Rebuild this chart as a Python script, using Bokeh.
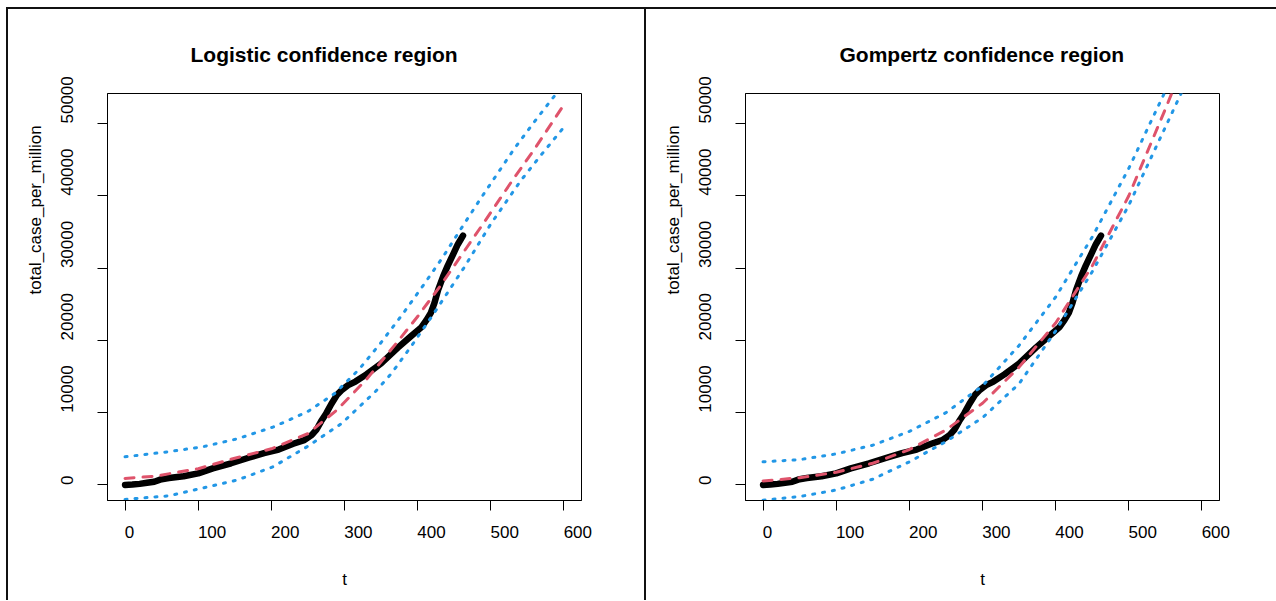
import math
from bokeh.plotting import figure
from bokeh.models import Range1d, FixedTicker, LinearAxis, Title, Div, Spacer
from bokeh.layouts import row, column
from bokeh.embed import file_html
from bokeh.resources import INLINE

# ---------------- data ----------------
x_ticks = [0, 100, 200, 300, 400, 500, 600]
x_tick_labels = ["0", "100", "200", "300", "400", "500", "600"]
y_ticks = [0, 10000, 20000, 30000, 40000, 50000]
y_tick_labels = ["0", "10000", "20000", "30000", "40000", "50000"]

t_obs = [0, 10, 20, 30, 40, 50, 60, 80, 100, 120, 145, 170, 190, 210, 230, 245, 255,
         262, 268, 275, 282, 290, 297, 305, 315, 330, 350, 373, 390, 405, 412, 418,
         423, 428, 435, 441, 448, 455, 462]
cases = [0, 50, 150, 300, 450, 800, 950, 1200, 1600, 2300, 3000, 3800, 4400, 4900, 5700,
         6200, 6900, 7700, 8800, 9900, 11200, 12500, 13200, 13800, 14300, 15300, 16800,
         19000, 20500, 21800, 22800, 23800, 25200, 27000, 28900, 30300, 31800, 33300, 34500]

# Logistic model
log_fit_t = [0, 40, 100, 150, 200, 250, 290, 330, 370, 400, 430, 460, 490, 530, 560, 600]
log_fit_v = [900, 1200, 2250, 3700, 5000, 7100, 10400, 14600, 19500, 23300, 27400, 31800,
             36200, 42200, 46500, 52600]
log_up_t = [0, 60, 107, 154, 202, 249, 286, 320, 350, 380, 409, 435, 459, 486, 532, 560, 600]
log_up_v = [3900, 4600, 5300, 6400, 8000, 10100, 12600, 16000, 19700, 23700, 27800, 31600,
            35400, 39600, 46500, 50300, 55500]
log_lo_t = [0, 60, 107, 154, 202, 249, 296, 343, 364, 392, 422, 463, 500, 541, 570, 600]
log_lo_v = [-2000, -1500, -400, 700, 2500, 5300, 8500, 13000, 15400, 19300, 23700, 30000,
            36100, 42100, 45800, 49500]

# Gompertz model
gom_fit_t = [0, 50, 100, 150, 200, 250, 300, 350, 400, 450, 500, 550, 570]
gom_fit_v = [550, 1000, 1750, 3000, 4900, 7600, 11300, 16300, 22400, 30300, 40000, 52000, 57000]
gom_up_t = [0, 50, 100, 150, 200, 250, 300, 350, 400, 450, 500, 550]
gom_up_v = [3200, 3500, 4300, 5500, 7400, 10000, 13700, 19300, 26000, 34300, 43800, 54500]
gom_lo_t = [0, 50, 100, 150, 200, 250, 300, 350, 400, 450, 500, 550, 580]
gom_lo_v = [-2100, -1600, -700, 800, 3200, 6000, 9300, 14000, 21300, 29500, 38700, 49500, 56000]

# ---------------- style ----------------
FONT = "Liberation Sans"
RED = "#DF536B"
BLUE = "#2297E6"
X_START, X_END = -24, 624
Y_START, Y_END = -2150, 54150
FIG_H = 591
FRAME_W = 474
FRAME_H = 407
TOP = 84
LEFT = 99
LABEL_PX = 17


def label_shift(text, px_per_unit):
    # tick labels in the reference start at the tick instead of being centred on it
    width_px = 0.556 * LABEL_PX * len(text)
    return int(round(width_px / 2 / px_per_unit))


def make_panel(title, title_offset, width,
               fit_t, fit_v, up_t, up_v, lo_t, lo_v):
    p = figure(width=width, height=FIG_H,
               x_range=Range1d(X_START, X_END), y_range=Range1d(Y_START, Y_END),
               output_backend="svg", toolbar_location=None,
               min_border_left=LEFT, min_border_right=width - LEFT - FRAME_W,
               min_border_top=TOP, min_border_bottom=FIG_H - TOP - FRAME_H)
    p.xgrid.visible = False
    p.ygrid.visible = False
    p.outline_line_color = "black"
    p.outline_line_width = 1
    p.background_fill_color = "white"
    p.border_fill_color = "white"

    # tick-mark axes (labels not drawn)
    for ax, ticks in ((p.xaxis[0], x_ticks), (p.yaxis[0], y_ticks)):
        ax.ticker = FixedTicker(ticks=ticks)
        ax.major_tick_in = 0
        ax.major_tick_out = 10
        ax.minor_tick_line_color = None
        ax.major_label_text_color = None
        ax.major_label_text_font_size = "1px"
        ax.major_label_standoff = 0
        ax.axis_line_color = "black"
        ax.major_tick_line_color = "black"

    px_x = FRAME_W / (X_END - X_START)
    px_y = FRAME_H / (Y_END - Y_START)
    xs = [t + label_shift(s, px_x) for t, s in zip(x_ticks, x_tick_labels)]
    ys = [v + label_shift(s, px_y) for v, s in zip(y_ticks, y_tick_labels)]

    xlab = LinearAxis(ticker=FixedTicker(ticks=xs),
                      major_label_overrides={k: s for k, s in zip(xs, x_tick_labels)},
                      axis_line_color=None, major_tick_line_color=None,
                      minor_tick_line_color=None, major_tick_in=0, major_tick_out=0,
                      major_label_standoff=15,
                      major_label_text_font=FONT, major_label_text_font_size="17px",
                      major_label_text_color="black",
                      axis_label="t", axis_label_standoff=29,
                      axis_label_text_font=FONT, axis_label_text_font_size="17px",
                      axis_label_text_font_style="normal", axis_label_text_color="black")
    p.add_layout(xlab, "below")

    ylab = LinearAxis(ticker=FixedTicker(ticks=ys),
                      major_label_overrides={k: s for k, s in zip(ys, y_tick_labels)},
                      axis_line_color=None, major_tick_line_color=None,
                      minor_tick_line_color=None, major_tick_in=0, major_tick_out=0,
                      major_label_standoff=24, major_label_orientation="parallel",
                      major_label_text_font=FONT, major_label_text_font_size="17px",
                      major_label_text_color="black")
    p.add_layout(ylab, "left")

    p.add_layout(Title(text="total_case_per_million", align="left", offset=206,
                       standoff=28, text_font=FONT, text_font_size="17px",
                       text_font_style="normal", text_color="black"), "left")

    p.title.text = title
    p.title.align = "left"
    p.title.offset = title_offset
    p.title.standoff = 56
    p.title.text_font = FONT
    p.title.text_font_size = "21px"
    p.title.text_font_style = "bold"
    p.title.text_color = "black"

    p.line(t_obs, cases, color="black", line_width=6.5, line_cap="round", line_join="round")
    p.line(fit_t, fit_v, color=RED, line_width=3, line_dash="9 9", line_cap="round")
    p.line(up_t, up_v, color=BLUE, line_width=3, line_dash="2 8", line_cap="round")
    p.line(lo_t, lo_v, color=BLUE, line_width=3, line_dash="2 8", line_cap="round")
    return p


p1 = make_panel("Logistic confidence region", 83, 636,
                log_fit_t, log_fit_v, log_up_t, log_up_v, log_lo_t, log_lo_v)
p2 = make_panel("Gompertz confidence region", 94, 629,
                gom_fit_t, gom_fit_v, gom_up_t, gom_up_v, gom_lo_t, gom_lo_v)

LINE = {"background-color": "#111111"}
top_line = Div(text="", width=1270, height=2, margin=0, styles=LINE)
left_line = Div(text="", width=2, height=FIG_H, margin=0, styles=LINE)
mid_line = Div(text="", width=2, height=FIG_H, margin=0, styles=LINE)

inner = column(top_line, row(left_line, p1, mid_line, p2, spacing=0), spacing=0)
layout = column(Spacer(height=7, width=10),
                row(Spacer(width=6, height=10), inner, spacing=0), spacing=0)

open("out.html", "w").write(file_html(layout, INLINE))
